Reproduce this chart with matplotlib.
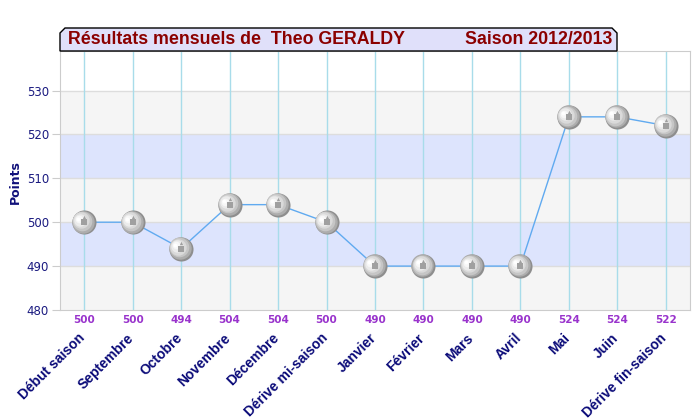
import matplotlib
matplotlib.use("Agg")
import matplotlib.pyplot as plt
from matplotlib.patches import Polygon
import matplotlib.transforms as mtransforms

# Données
mois = ["Début saison", "Septembre", "Octobre", "Novembre", "Décembre",
        "Dérive mi-saison", "Janvier", "Février", "Mars", "Avril",
        "Mai", "Juin", "Dérive fin-saison"]
points = [500, 500, 494, 504, 504, 500, 490, 490, 490, 490, 524, 524, 522]
y_ticks = [480, 490, 500, 510, 520, 530]
titre_gauche = "Résultats mensuels de  Theo GERALDY"
titre_droite = "Saison 2012/2013"

W, H = 700, 420
fig = plt.figure(figsize=(7, 4.2), dpi=100)
ax = fig.add_axes([60 / W, 1 - 310 / H, 630 / W, 259 / H])

x = list(range(len(mois)))
ax.set_xlim(-0.5, len(mois) - 0.5)
ax.set_ylim(480, 539)

# bandes alternées
for i, (lo, hi) in enumerate(zip(y_ticks[:-1], y_ticks[1:])):
    ax.axhspan(lo, hi, color="#dde4fd" if i % 2 else "#f5f5f5", zorder=0, lw=0)
for yt in y_ticks[1:]:
    ax.axhline(yt, color="#dddddd", lw=1, zorder=1)
for xi in x:
    ax.axvline(xi, color="#a8dcea", lw=1, zorder=1)

ax.plot(x, points, color="#60aaf0", lw=1, zorder=2)

# boules grises (effet sphère)
couches = [(300, "#8e8e8e"), (260, "#adadad"), (200, "#c6c6c6"),
           (140, "#dadada"), (80, "#ebebeb"), (30, "#f7f7f7"), (8, "#ffffff")]
for k, (s, c) in enumerate(couches):
    dy = 0.14 * k
    ax.scatter([xi - 0.02 * k for xi in x], [p + dy for p in points],
               s=s, color=c, zorder=3 + k, lw=0)
ax.scatter(x, points, s=14, marker="s", color="#a0a0a0", zorder=12, lw=0)
ax.scatter(x, [p + 1.2 for p in points], s=6, marker="^", color="#a0a0a0", zorder=12, lw=0)

ax.set_yticks(y_ticks)
ax.set_yticklabels([str(v) for v in y_ticks], color="#1a1a80",
                   fontsize=8.5, family="DejaVu Sans")
ax.tick_params(axis="y", length=6, color="#cccccc", pad=2)
ax.set_xticks(x)
ax.set_xticklabels(mois, rotation=45, ha="right", va="top",
                   rotation_mode="anchor", color="#0a0a78",
                   fontsize=10, fontweight="bold", family="Liberation Sans")
ax.tick_params(axis="x", length=0, pad=15)
decal = mtransforms.ScaledTranslation(-6 / 100, 0, fig.dpi_scale_trans)
for lab in ax.get_xticklabels():
    lab.set_transform(lab.get_transform() + decal)
for sp in ax.spines.values():
    sp.set_color("#cccccc")

# valeurs sous l'axe
for xi, p in zip(x, points):
    ax.annotate(str(p), (xi, 480), xytext=(0, -7), textcoords="offset points",
                ha="center", va="center", color="#9933cc", fontsize=7.5,
                fontweight="bold", family="DejaVu Sans", annotation_clip=False)

fig.text(15 / W, 1 - 182 / H, "Points", rotation=90, ha="center", va="center",
         color="#10107a", fontsize=9, fontweight="bold", family="DejaVu Sans")

# cadre du titre
x0, x1, y0, y1, c = 60, 617, 28, 51, 5
pts = [(x0, y1), (x0, y0 + c), (x0 + c, y0), (x1 - c, y0), (x1, y0 + c), (x1, y1)]
fig.patches.append(Polygon([(px / W, 1 - py / H) for px, py in pts], closed=True,
                           transform=fig.transFigure, facecolor="#e0e0fa",
                           edgecolor="black", lw=1, zorder=5))
fig.text(68 / W, 1 - 40 / H, titre_gauche, ha="left", va="center",
         color="#8b0000", fontsize=12.8, fontweight="bold", family="Liberation Sans", zorder=6)
fig.text(612 / W, 1 - 40 / H, titre_droite, ha="right", va="center",
         color="#8b0000", fontsize=12.8, fontweight="bold", family="Liberation Sans", zorder=6)

fig.savefig("out.png", dpi=100)
